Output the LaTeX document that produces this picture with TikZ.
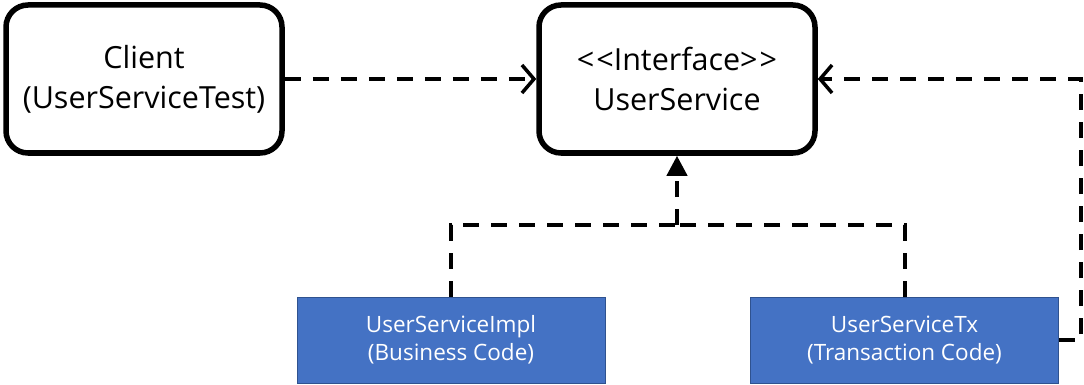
\documentclass[tikz,border=0pt]{standalone}
\usepackage{fontspec}
\setmainfont{Open Sans}
\usepackage{tikz}
\usetikzlibrary{arrows.meta, positioning}

\definecolor{implfill}{HTML}{4472C4}
\definecolor{impldraw}{HTML}{2F528F}

\begin{document}
\begin{tikzpicture}[
    x=1pt, y=-1pt,
    every node/.style={font=\fontsize{30.5}{40}\selectfont},
    iface/.style={rectangle, draw, line width=5.5pt, rounded corners=22pt, minimum width=276pt, minimum height=148pt, align=center, inner sep=0pt},
    impl/.style={rectangle, draw=impldraw, line width=0.8pt, fill=implfill, minimum width=308pt, minimum height=86pt, align=center, text=white, inner sep=0pt, font=\fontsize{22.5}{28}\selectfont},
    dep/.style={line width=4pt, dash pattern=on 16pt off 12pt},
    opentip/.style={-{Straight Barb[length=12pt, width=28pt, line width=3.5pt]}},
    filltip/.style={-{Triangle[length=20pt, width=20pt]}}
]
\useasboundingbox (0,0) rectangle (1084,385);

% ── Top row ──
\node[iface] (client) at (144,79) {Client\\(UserServiceTest)};
\node[iface] (usvc)   at (677,79) {<\kern2pt<Interface>\kern2pt>\\UserService};

% ── Implementations ──
\node[impl] (impl) at (451,340) {UserServiceImpl\\(Business Code)};
\node[impl] (tx)   at (904.5,340) {UserServiceTx\\(Transaction Code)};

\coordinate (bus) at (677,225);

\draw[dep, opentip] (client) -- (usvc);
\draw[dep] (impl.north) |- (bus);
\draw[dep] (tx.north) |- (bus);
\draw[dep, filltip] (bus) -- (usvc.south);
\draw[dep, opentip] (tx.east) -- ++(22,0) |- (usvc.east);

\end{tikzpicture}
\end{document}
